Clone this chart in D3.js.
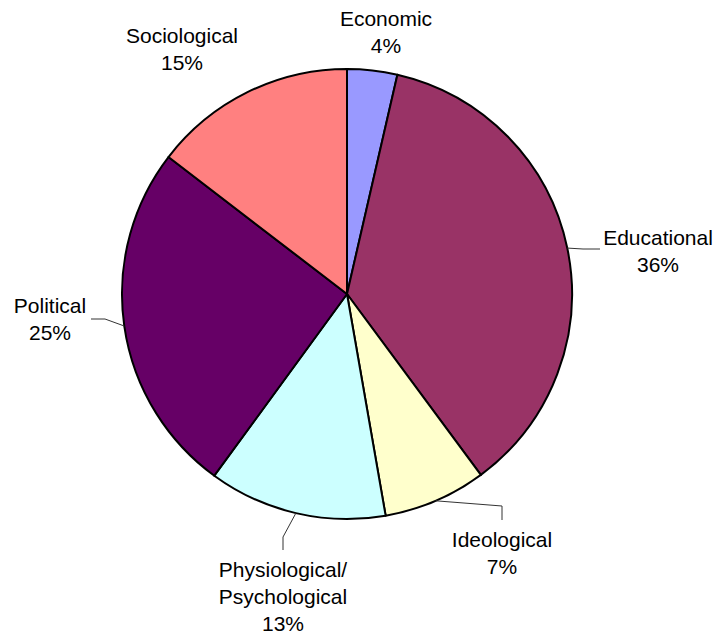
<!DOCTYPE html>
<html>
<head>
<meta charset="utf-8">
<script src="https://cdn.jsdelivr.net/npm/d3@7/dist/d3.min.js"></script>
<style>
  html, body { margin: 0; padding: 0; background: #fff; }
  svg { display: block; }
  text { font-family: Arial, "Liberation Sans", sans-serif; font-size: 21px; fill: #000; }
</style>
</head>
<body>
<svg id="chart" width="720" height="641"></svg>
<script>
// Share of items by category (clockwise from 12 o'clock)
const categories = ["Economic", "Educational", "Ideological", "Physiological/\nPsychological", "Political", "Sociological"];
const values = [3.6, 36.3, 7.4, 12.8, 25.4, 14.6];
const colors = ["#9999FF", "#993366", "#FFFFCC", "#CCFFFF", "#660066", "#FF8080"];

// Label placement: text centre (x, first baseline) and leader elbow points, in page pixels
const labelLayout = [
  { x: 386, y: 26, leader: null },
  { x: 658, y: 245, leader: [[583, 249], [600, 249]] },
  { x: 502, y: 547, leader: [[502, 506], [502, 520]] },
  { x: 283, y: 577, leader: [[283, 537], [283, 550]] },
  { x: 50,  y: 313, leader: [[105, 319], [91, 319]] },
  { x: 182, y: 43, leader: null }
];

const cx = 347, cy = 294, radius = 225, lineH = 27;

const svg = d3.select("#chart");
const g = svg.append("g").attr("transform", `translate(${cx},${cy})`);

const total = d3.sum(values);
const data = categories.map((c, i) => ({ name: c, value: values[i], color: colors[i], layout: labelLayout[i] }));

const pie = d3.pie().value(d => d.value).sort(null);
const arc = d3.arc().innerRadius(0).outerRadius(radius);
const arcs = pie(data);

g.selectAll("path.slice")
  .data(arcs)
  .enter().append("path")
  .attr("class", "slice")
  .attr("d", arc)
  .attr("fill", d => d.data.color)
  .attr("stroke", "#000")
  .attr("stroke-width", 2)
  .attr("stroke-linejoin", "round");

// Leader lines from the slice's outer edge to its label
const edge = d3.arc().innerRadius(radius).outerRadius(radius);
arcs.forEach(a => {
  const L = a.data.layout;
  if (!L.leader) return;
  const c = edge.centroid(a);
  const pts = [[c[0] + cx, c[1] + cy]].concat(L.leader);
  svg.append("path")
    .attr("d", d3.line()(pts))
    .attr("fill", "none")
    .attr("stroke", "#333")
    .attr("stroke-width", 1);
});

// Labels: category name(s) plus rounded percentage
arcs.forEach(a => {
  const L = a.data.layout;
  const lines = a.data.name.split("\n").concat([Math.round(a.data.value / total * 100) + "%"]);
  const t = svg.append("text").attr("text-anchor", "middle");
  lines.forEach((s, i) => {
    t.append("tspan").attr("x", L.x).attr("y", L.y + i * lineH).text(s);
  });
});
</script>
</body>
</html>
